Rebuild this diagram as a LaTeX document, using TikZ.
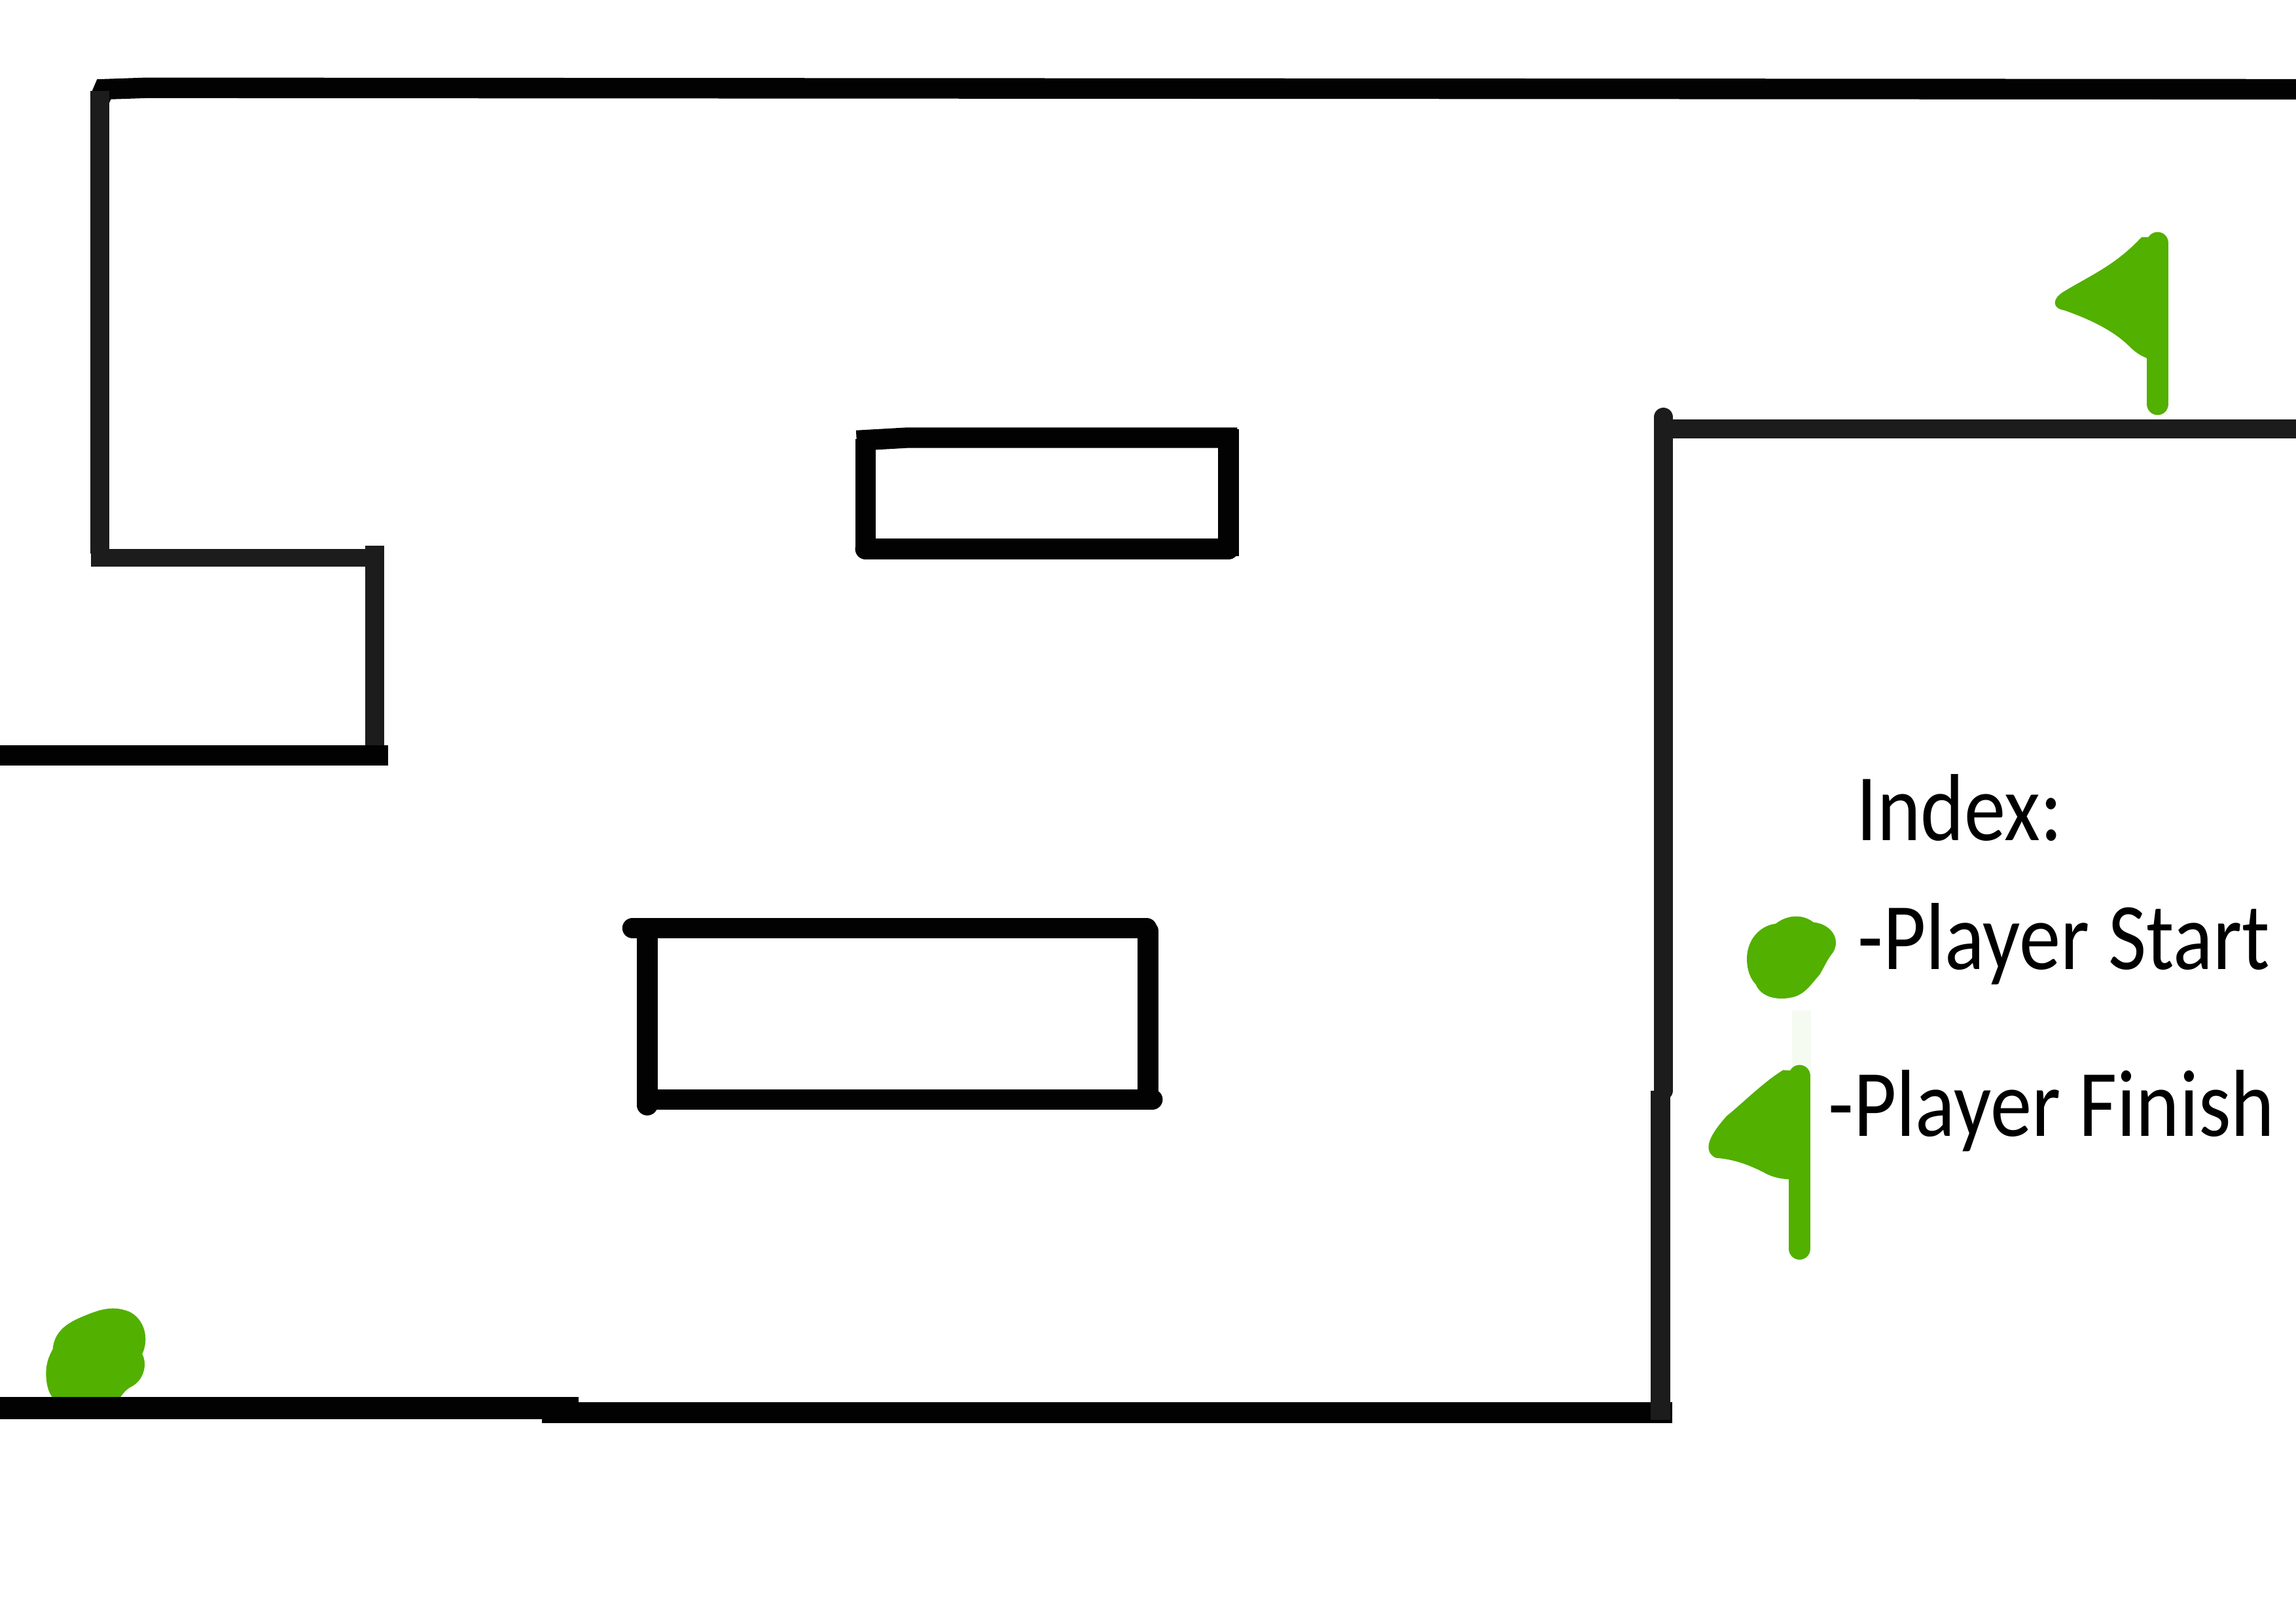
\documentclass[tikz,border=0pt]{standalone}
\usepackage{xcolor}
\usepackage{fontspec}
\setmainfont[FakeStretch=0.87]{Carlito}
\definecolor{goal}{HTML}{52B000}
\definecolor{ink}{HTML}{020202}
\definecolor{inksoft}{HTML}{1C1C1C}
\tikzset{
  wall/.style={draw=ink,line width=1.4mm},
  wallsoft/.style={draw=inksoft,line width=1.3mm},
  pole/.style={draw=goal,line width=1.5mm,line cap=round},
  blob/.style={fill=goal,draw=goal,line width=0.2mm},
  lbl/.style={font=\fontsize{18.5}{22}\selectfont,color=black,anchor=base west,inner sep=0pt}}

\begin{document}
\begin{tikzpicture}[x=0.01cm,y=-0.01cm]
\useasboundingbox (0,0) rectangle (1568,1109);
% player start
\fill[blob] (33,945) .. controls (31,932) and (35,926) .. (37,922) .. controls (38,908) and (50,903) .. (60,899) .. controls (70,895) and (78,893) .. (88,897) .. controls (98,902) and (101,915) .. (96,925) .. controls (100,932) and (97,942) .. (90,946) .. controls (86,948) and (84,950) .. (80,956) -- (38,956) .. controls (35,952) and (34,950) .. (33,945) -- cycle;
% outer walls
\draw[wall] (68,68) -- (71,61) -- (100,60) -- (1568,61);
\draw[wallsoft] (68,62) -- (68,378);
\draw[wallsoft,line width=1.2mm] (62,381) -- (252,381);
\draw[wallsoft] (256,373) -- (256,522);
\draw[wall] (0,516) -- (265,516);
\draw[wall,line width=1.5mm] (0,962) -- (395,962);
\draw[wall] (370,965) -- (1142,965);
\draw[wallsoft,line cap=round] (1136,285) -- (1136,745);
\draw[wallsoft] (1134,745) -- (1134,970);
\draw[wallsoft] (1140,293) -- (1568,293);
% upper block
\draw[wall] (585,301) -- (620,299) -- (640,299) -- (845,299);
\draw[wall] (591,300) -- (591,375);
\draw[wall] (839,293) -- (839,380);
\draw[wall,line cap=round] (591,375) -- (839,375);
% lower block
\draw[wall,line cap=round] (432,634) -- (783,634);
\draw[wall,line cap=round] (442,640) -- (442,755);
\draw[wall,line cap=round] (784,636) -- (784,750);
\draw[wall,line cap=round] (442,751) -- (787,751);
% finish flag
\fill[blob] (1463,163) .. controls (1445,182) and (1430,188) .. (1410,200) .. controls (1402,205) and (1403,210) .. (1410,211) .. controls (1430,218) and (1445,226) .. (1455,236) .. controls (1460,241) and (1464,243) .. (1470,245) -- (1470,163) -- cycle;
\draw[pole] (1473.5,166) -- (1473.5,276);
% index
\node[lbl] (title) at (1267,574) {Index:};
\node[lbl] (startlbl) at (1268,662) {-Player Start};
\node[lbl] (finishlbl) at (1248,776) {-Player Finish};
\fill[blob] (1194,655) .. controls (1194,642) and (1203,633) .. (1213,632) .. controls (1222,625) and (1232,626) .. (1238,631) .. controls (1250,632) and (1256,642) .. (1251,650) .. controls (1247,655) and (1245,660) .. (1242,665) .. controls (1236,672) and (1232,678) .. (1225,680) .. controls (1214,683) and (1203,680) .. (1200,672) .. controls (1196,668) and (1194,662) .. (1194,655) -- cycle;
\fill[goal!5] (1224,690) rectangle (1237,730);
\fill[blob] (1218,732) .. controls (1205,740) and (1190,755) .. (1180,763) .. controls (1172,772) and (1162,785) .. (1172,790) .. controls (1185,791) and (1195,795) .. (1205,800) .. controls (1212,804) and (1218,805) .. (1234,805) -- (1234,733) -- cycle;
\draw[pole] (1229,735) -- (1229,853);
\end{tikzpicture}
\end{document}
